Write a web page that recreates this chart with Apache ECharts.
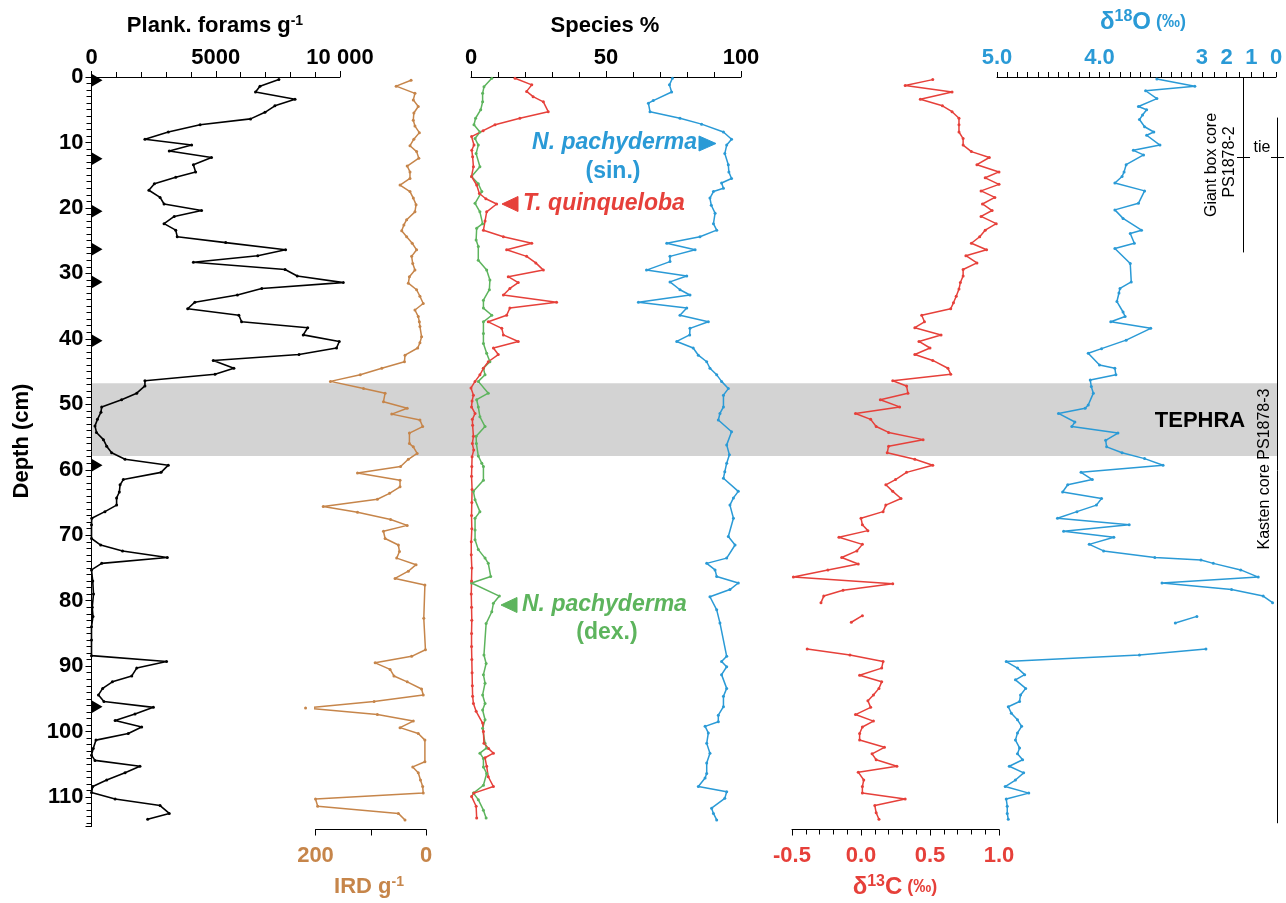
<!DOCTYPE html>
<html><head><meta charset="utf-8">
<script src="https://cdn.jsdelivr.net/npm/echarts@6/dist/echarts.min.js"></script>
<style>html,body{margin:0;padding:0;background:#fff}#c{width:1286px;height:903px}</style>
</head><body><div id="c"></div>
<script>
// ---------------- DATA ----------------
const depthTickLabels = [0,10,20,30,40,50,60,70,80,90,100,110];
const markerDepths = [0.5,12.5,20.5,26.3,31.3,40.3,59.3,96.2];
const tephraTop = 46.8, tephraBottom = 57.9;

const foramsDepth = [0.4,1.4,2.3,3.4,4.4,5.4,6.4,7.3,8.4,9.5,10.4,11.3,12.3,13.4,14.5,15.3,16.3,17.3,18.4,19.4,20.4,21.3,22.4,23.4,24.4,25.3,26.4,27.3,28.3,29.4,30.4,31.4,32.3,33.3,34.4,35.4,36.4,37.4,38.3,39.4,40.4,41.4,42.4,43.3,44.5,45.4,46.4,47.2,48.3,49.3,50.4,51.2,52.3,53.3,54.3,55.4,56.4,57.4,58.4,59.3,60.4,61.5,62.3,63.4,64.3,65.4,66.4,67.4,68.4,70.5,71.5,72.4,73.4,74.3,75.3,77,79,81,82.4,84,86,88.4,89.3,90.3,91.5,92.4,93.4,94.4,95.4,96.3,97.3,98.3,99.3,100.3,101.3,102.6,103.6,104.4,105.3,106.3,107.4,108.4,109.3,110.3,111.3,112.5,113.4];
const foramsValue = [7540,6780,6600,8190,7380,6980,6400,4370,3090,2150,4030,3130,4830,4100,4190,3390,2530,2310,2760,2920,4430,3330,2920,3390,3450,5400,7810,6690,4100,7790,8280,10130,6850,5870,4160,3870,5930,6040,8700,8520,9970,9860,8350,4900,5730,4970,2150,2150,1820,1210,410,380,240,140,200,480,610,810,1350,3090,2800,1280,1150,1120,1010,1010,540,10,0,0,370,1250,3050,410,0,50,80,30,60,0,0,0,3020,1820,1620,840,450,280,500,2490,1750,950,2020,1480,180,70,0,140,1950,1350,610,50,0,950,2760,3130,2260];

const irdDepth = [0.5,1.4,2.5,3.5,4.5,5.5,6.6,7.5,8.5,9.5,10.5,11.4,12.4,13.6,14.5,15.5,16.5,17.5,18.5,19.5,20.6,21.8,22.6,23.5,24.4,25.4,26.4,27.4,28.5,29.5,30.5,31.5,32.5,33.5,34.6,35.6,36.6,37.4,38.1,39.7,40.6,41.4,42.5,43.5,44.5,45.5,46.5,47.6,48.3,49.6,50.6,51.5,52.4,53.4,54.4,56,56.5,57.5,58.4,59.5,60.5,61.6,62.6,63.6,64.5,65.6,66.5,67.6,68.5,69.4,70.5,71.5,72.5,73.5,74.5,75.5,76.6,77.6,82.7,87.5,88.5,89.5,90.5,91.5,92.4,93.5,94.4,95.4,96.4,97.4,98.4,99.4,100.3,101.3,104.6,105.4,106.3,107.4,108.4,109.4,110.3,111.4,112.5,113.5];
const irdValue = [27,54,20,23,14,22,23,20,12,22,29,17,13,34,29,29,47,29,23,18,20,35,40,44,35,25,17,26,24,20,30,32,17,11,5,20,14,12,11,8,11,15,38,39,80,119,173,113,74,77,34,62,11,6,30,30,23,16,32,46,124,47,47,66,88,186,124,64,34,77,74,50,48,53,18,32,56,2,4,1,26,92,65,58,34,8,5,94,218,88,23,47,14,2,2,24,14,10,6,5,200,196,50,38];

const quinqDepth = [0.2,1.2,2.2,3.0,3.8,5.3,6.3,7.3,8.2,9.1,10.4,11.2,12.2,13.7,15.2,16.5,17.8,18.6,19.4,20.6,22,23.4,24.4,25.4,26.4,27.4,28.4,29.5,30.5,31.4,32.3,33.3,34.4,35.3,36.4,37.4,38.4,39.4,40.4,41.4,42.4,43.5,44.5,45.5,46.5,47.5,48.6,49.5,50.4,51.4,52.3,53.2,54.9,56,57,58,59.5,61,63,65,67,69,71,73,75,77,79,81,83,85,87,89,91,93,94.6,95.7,96.9,98.7,100,101.8,102.6,103.3,104,105.3,106.9,108.4,109.4,109.9,111.4,113.2];
const quinqValue = [16.3,22.5,20.6,23,26.8,28.6,18.1,8.9,4.5,0.2,1.1,0.3,0.6,0.9,0.2,2.1,3.1,5.5,9.5,5.8,5.2,4.6,12,22.5,13.2,20.6,24,26.8,13.8,17.5,14.4,12,31.7,14.4,13.2,6.4,11.4,12,17.5,8.3,10.1,6.4,4.6,3.3,1.5,0,0.9,0.4,0.2,1.5,0.5,0.6,0.9,0.5,1,0.4,0.3,0.2,0.4,0.3,0.2,0.3,0.1,0.1,0.3,0.2,0.1,0.2,0.3,0.2,0.2,0.3,0.4,0.5,0.6,0.9,1.9,4.3,4.6,4.8,6.5,8.3,5.2,5.8,6.4,8.3,1.1,0.2,1.9,2.1];

const dexDepth = [0.2,1.5,2.5,3.8,5.0,6.3,7.3,8.4,9.4,10.4,11.7,13.7,15.2,16.3,17.5,19.3,20.6,22.4,23.1,24.9,25.9,28,29.5,31,32.5,34.1,35.3,36.4,37.4,39.2,40.7,42.2,43.5,44.5,45.5,46.5,48.3,49.3,50.4,51.9,53.4,54.9,56,57.9,59,59.5,61.6,63.3,64.6,66.4,67.4,69.2,70.7,72.2,73.5,74.3,76.3,77.3,79.3,80.4,81.7,83.5,88.3,89.6,91.3,92.6,94.4,95.7,96.7,98.2,99.5,101.8,102.5,103.3,104.1,105.4,106.4,108.2,109.4,110.4,112,113.2];
const dexValue = [7.7,4.8,4.3,4.3,3.6,1.7,1.1,3.3,1.5,2.7,1.9,3.3,0.2,2.7,4.0,1.5,3.3,4.3,2.1,1.9,2.7,2.7,5.8,7.0,6.8,4.6,4.6,7.7,4.6,4.6,4.6,5.8,7.0,4.6,5.2,2.7,6.4,2.1,2.7,3.3,5.2,1.9,2.0,2.7,4.0,4.6,4.6,0.9,1.5,3.3,1.5,1.5,1.5,2.7,5.2,6.4,7.3,0.2,10.5,8.3,7.7,5.6,4.8,5.6,4.6,5.2,4.3,5.2,4.3,5.2,4.3,5.2,5.8,3.3,4.6,4.6,5.8,4.6,0.9,2.7,4.6,5.6];

const sinDepth = [0.2,1.2,2.3,3.6,4.0,5.3,6.3,7.2,8.4,9.5,10.4,11.7,13.4,14.5,15.5,16.2,17.0,17.5,18.5,19.6,20.8,22.4,23.4,24.4,25.4,26.4,27.4,28.2,29.5,30.4,31.3,32.5,33.3,34.4,35.3,36.4,37.4,38.4,39.4,40.4,41.4,42.5,43.5,44.5,45.5,46.5,47.6,48.6,50.4,51.4,52.4,54.2,56.2,57.7,59,60.3,61.3,63.3,64.3,65.4,67.4,70.2,71.5,73.5,74.3,75.3,76.3,77.3,78.3,79.4,81.4,83.4,88.5,89.3,90.1,91.3,93.4,94.6,96.2,97.5,98.5,99.2,100.2,101.8,103.3,104.8,106.4,107.1,108.4,109.2,110.2,111.7,112.5,113.5];
const sinValue = [74.6,73.5,74.3,67.5,65.7,66.3,77.4,85.4,93.5,96.5,94.7,94,95.3,95.5,96.5,92.8,93.5,89.8,88.5,89,90.4,89.8,91,84.8,72.5,83,73.7,73.7,65,79.9,73.7,77.4,81.1,62,79.9,77.4,87.9,81.1,81,76.2,82.3,84.2,87.3,88.5,91,92.8,95.3,93.5,93.5,92.2,91.6,96.5,94.7,95.7,94.7,94,93.5,99,97.2,95.9,97.2,95.3,97.8,94.7,87.3,90.4,91,99,95.9,88.5,91,92.2,94.7,92.8,94.7,92.8,94.7,93.5,93.5,91.6,91.6,86.7,87.9,87.3,88.5,87.3,87.3,86.7,84.2,94.7,94,89.1,89.8,91];

const d13cDepth = [0.4,1.3,2.3,3.4,4.4,5.3,6.3,7.3,8.4,9.4,10.4,11.4,12.3,13.4,14.5,15.4,16.4,17.4,18.4,19.4,20.4,21.3,22.4,23.4,24.4,25.4,26.4,27.3,28.4,29.4,30.4,31.4,32.4,33.5,34.5,35.4,36.4,37.4,38.3,39.4,40.4,41.4,42.4,43.3,44.5,45.4,46.4,47.2,48.3,49.3,50.4,51.4,52.3,53.4,54.3,55.4,56.4,57.4,58.4,59.3,60.4,61.5,62.3,63.3,64.4,65.4,66.4,67.4,68.4,69.3,70.3,71.4,72.4,73.4,74.4,75.3,76.4,77.4,78.4,79.3,80.3,81.3,82.3,83.3,85.3,87.4,88.3,89.3,90.3,91.4,92.4,93.4,94.4,95.3,96.3,97.4,98.4,99.3,100.3,101.3,102.4,103.4,104.3,105.3,106.2,107.4,108.4,109.4,110.3,111.3,112.4,113.4];
const d13cValue = [0.52,0.32,0.66,0.43,0.59,0.66,0.71,0.71,0.71,0.74,0.74,0.8,0.93,0.84,1.0,0.9,1.0,0.87,0.97,0.88,0.95,0.87,0.98,0.9,0.86,0.8,0.91,0.76,0.84,0.74,0.74,0.72,0.71,0.69,0.67,0.65,0.44,0.46,0.39,0.58,0.42,0.5,0.39,0.52,0.63,0.65,0.23,0.33,0.34,0.14,0.28,-0.04,0.07,0.11,0.2,0.45,0.2,0.19,0.39,0.52,0.33,0.25,0.18,0.23,0.29,0.18,0.16,0.0,0.01,0.05,-0.16,0.01,-0.03,-0.14,-0.02,-0.24,-0.49,0.23,-0.13,-0.27,-0.29,null,0.01,-0.07,null,-0.39,-0.08,0.16,0.15,-0.01,0.15,0.13,0.09,0.05,0.07,-0.04,0.09,0.01,-0.01,-0.01,0.17,0.08,0.11,0.26,-0.02,0.02,0.01,0.01,0.32,0.1,0.11,0.13];

const d18oDepth = [0.3,1.4,2.1,3.3,4.5,5.0,5.8,6.5,7.6,8.4,8.9,10.4,11.2,11.9,13.4,14.5,15.2,16.2,17.4,19.3,20.3,21.6,23.4,23.9,25.4,26.2,28.5,31.3,32.3,33.0,34.3,35.9,36.6,37.4,38.4,40.2,41.5,42.2,44.0,44.5,45.5,46.3,47.3,48.3,50.1,50.6,51.4,52.7,53.4,54.4,55.5,56.5,57.4,58.3,59.3,60.4,61.5,62.3,63.4,64.4,65.4,66.4,67.4,68.4,69.4,70.3,71.4,72.4,73.4,73.8,74.3,75.3,76.4,77.3,78.3,79.3,80.3,81.3,82.4,83.4,85.3,87.4,88.3,89.3,90.3,91.3,92.1,93.4,94.4,95.4,96.2,97.2,98.2,99.2,100.2,101.3,102.5,103.4,104.3,105.3,106.3,107.4,108.4,109.4,110.3,111.4,112.5,113.4];
const d18oValue = [3.44,3.07,3.55,3.44,3.62,3.54,3.58,3.61,3.56,3.47,3.54,3.41,3.67,3.57,3.74,3.76,3.78,3.85,3.56,3.62,3.85,3.77,3.59,3.70,3.66,3.85,3.70,3.69,3.80,3.81,3.83,3.77,3.75,3.89,3.50,3.74,3.98,4.11,4.0,3.85,3.84,4.09,4.08,4.06,4.11,4.14,4.40,4.24,4.27,3.82,3.94,3.93,3.78,3.56,3.38,4.18,4.07,4.31,4.36,3.98,4.03,4.22,4.41,3.71,4.35,3.86,4.10,3.96,3.46,3.01,2.54,1.43,0.72,3.39,1.8,0.52,0.14,null,3.05,3.26,null,2.84,3.61,4.91,4.80,4.73,4.82,4.72,4.77,4.78,4.89,4.86,4.80,4.76,4.80,4.82,4.78,4.80,4.75,4.88,4.74,4.82,4.92,4.69,4.91,4.90,4.90,4.89];

const d18oTickValues = [5,4,3,2,1,0];
const d18oTickLabels = ['5.0','4.0','3','2','1','0'];

// ---------------- HELPERS ----------------
const FONT = '"Liberation Sans", Arial, Helvetica, sans-serif';
const D18O_COMPRESS = 0.2407; // broken axis: 3..0 compressed
function d18oToAxis(v){ return v >= 3 ? 5 - v : 2 + (3 - v) * D18O_COMPRESS; }
function pairs(vals, depths, f){ return depths.map((d,i)=> vals[i]==null ? ['-', d] : [f ? f(vals[i]) : vals[i], d]); }

const COL = {ird:'#c6854a', red:'#e6403a', green:'#5db45d', blue:'#2a9ad6'};
const DEPTH_MAX = 114.5;
const GT = 77, GH = 749.5;

const d18oLabelAxis = d18oTickValues.map(d18oToAxis);
const d18oTickAxis = [];
for (let i=0;i<=20;i++) d18oTickAxis.push(i/10);
[2.5,2,1.5,1,0.5,0].forEach(v=>d18oTickAxis.push(d18oToAxis(v)));

function yAx(idx, show){
  return {gridIndex: idx, type:'value', inverse:true, min:0, max:DEPTH_MAX, interval:10, show: show,
    axisLine:{show:show, lineStyle:{color:'#000', width:1}},
    axisTick:{show:show, length:6, lineStyle:{color:'#000'}},
    minorTick:{show:show, splitNumber:10, length:5, lineStyle:{color:'#000'}},
    splitLine:{show:false},
    axisLabel:{show:show, margin:8, color:'#000', fontWeight:'bold', fontSize:22, fontFamily:FONT,
      formatter: v => depthTickLabels.indexOf(v) >= 0 ? String(v) : ''}};
}
function xAx(idx, o){
  return Object.assign({gridIndex: idx, type:'value', splitLine:{show:false},
    axisLine:{show:true, onZero:false, lineStyle:{color:'#000', width:1}},
    axisTick:{show:true, length:6, lineStyle:{color:'#000'}},
    minorTick:{show:false}}, o);
}
const lbl = (color) => ({color, fontWeight:'bold', fontSize:22, fontFamily:FONT});

function lineSeries(name, xi, data, color, extra){
  return Object.assign({name, type:'line', xAxisIndex:xi, yAxisIndex:xi, data, z:5,
    clip:false, connectNulls:false, smooth:false,
    symbol:'circle', symbolSize:3, showSymbol:true,
    lineStyle:{color, width:1.5}, itemStyle:{color}, emphasis:{disabled:true}}, extra||{});
}

const chart = echarts.init(document.getElementById('c'), null, {renderer:'canvas'});

const option = {
  animation:false,
  backgroundColor:'#fff',
  grid:[
    {left:91.5, top:GT, width:248.5, height:GH},
    {left:315.5, top:GT, width:110.5, height:GH},
    {left:471, top:GT, width:270, height:GH},
    {left:792, top:GT, width:207, height:GH},
    {left:997, top:GT, width:279, height:GH},
    {left:0, top:GT, width:1286, height:GH}
  ],
  xAxis:[
    xAx(0,{position:'top', min:0, max:10000, interval:5000,
      minorTick:{show:true, splitNumber:5, length:5, lineStyle:{color:'#000'}},
      axisLabel:Object.assign(lbl('#000'),{margin:8, formatter:v=> v===10000 ? '10 000' : String(v)})}),
    xAx(1,{position:'bottom', offset:3, min:0, max:200, interval:100, inverse:true,
      axisLabel:Object.assign(lbl(COL.ird),{margin:15, formatter:v=> v===100 ? '' : String(v)})}),
    xAx(2,{position:'top', min:0, max:100, interval:50,
      minorTick:{show:true, splitNumber:5, length:5, lineStyle:{color:'#000'}},
      axisLabel:Object.assign(lbl('#000'),{margin:8})}),
    xAx(3,{position:'bottom', offset:3, min:-0.5, max:1.0, interval:0.5,
      minorTick:{show:true, splitNumber:5, length:5, lineStyle:{color:'#000'}},
      axisLabel:Object.assign(lbl(COL.red),{margin:15, formatter:v=> v.toFixed(1)})}),
    xAx(4,{position:'top', min:0, max:d18oToAxis(0),
      axisTick:{show:true, length:5, customValues:d18oTickAxis, lineStyle:{color:'#000'}},
      axisLabel:Object.assign(lbl(COL.blue),{margin:8, customValues:d18oLabelAxis,
        formatter:v=>{ for(let i=0;i<d18oLabelAxis.length;i++){ if(Math.abs(d18oLabelAxis[i]-v)<1e-6) return d18oTickLabels[i]; } return ''; }})}),
    {gridIndex:5, type:'value', min:0, max:1286, show:false}
  ],
  yAxis:[yAx(0,true), yAx(1,false), yAx(2,false), yAx(3,false), yAx(4,false), yAx(5,false)],
  series:[
    {type:'line', xAxisIndex:5, yAxisIndex:5, data:[[0,0]], showSymbol:false, symbol:'none', z:1,
      lineStyle:{opacity:0}, silent:true,
      markArea:{silent:true, itemStyle:{color:'#d3d3d3'}, label:{show:false},
        data:[[{xAxis:92, yAxis:tephraTop},{xAxis:1277, yAxis:tephraBottom}]]},
      markLine:{silent:true, symbol:['none','none'], label:{show:false}, animation:false,
        lineStyle:{color:'#000', width:1, type:'solid'},
        emphasis:{disabled:true},
        data:[
          [{coord:[1243.5,0]},{coord:[1243.5,26.8]}],
          [{coord:[1277,6.2]},{coord:[1277,114]}],
          [{coord:[1237,12.3]},{coord:[1250,12.3]}],
          [{coord:[1271,12.3]},{coord:[1284,12.3]}]
        ]}},
    lineSeries('Plank. forams', 0, pairs(foramsValue, foramsDepth), '#000', {lineStyle:{color:'#000', width:1.6}}),
    {type:'scatter', xAxisIndex:0, yAxisIndex:0, z:6, clip:false,
      data: markerDepths.map(d=>[0,d]), symbol:'triangle', symbolRotate:-90, symbolSize:[13,11], symbolOffset:[5.5,0],
      itemStyle:{color:'#000', opacity:1}, emphasis:{disabled:true}},
    lineSeries('IRD', 1, pairs(irdValue, irdDepth), COL.ird),
    lineSeries('N. pachyderma (dex.)', 2, pairs(dexValue, dexDepth), COL.green),
    lineSeries('T. quinqueloba', 2, pairs(quinqValue, quinqDepth), COL.red),
    lineSeries('N. pachyderma (sin.)', 2, pairs(sinValue, sinDepth), COL.blue),
    lineSeries('d13C', 3, pairs(d13cValue, d13cDepth), COL.red),
    lineSeries('d18O', 4, pairs(d18oValue, d18oDepth, d18oToAxis), COL.blue)
  ],
  graphic:[]
};

function T(x, y, text, o){
  o = o || {};
  const st = {text, fill:o.color||'#000', fontFamily:FONT, fontSize:o.size||22, fontWeight:o.weight||'bold',
    fontStyle:o.style||'normal', align:o.align||'center', verticalAlign:'middle',
    textAlign:o.align||'center', textVerticalAlign:'middle'};
  if (o.rich) st.rich = o.rich;
  return {type:'text', x, y, rotation:o.rot||0, z:100, silent:true, style:st};
}
function richSup(color, mainSize, supSize, tailSize){
  const base = {fontFamily:FONT, fontWeight:'bold', fill:color, color};
  return {
    m:Object.assign({fontSize:mainSize}, base),
    s:Object.assign({fontSize:supSize, verticalAlign:'top', padding:[0,0,10,0]}, base),
    p:Object.assign({fontSize:tailSize||mainSize}, base)
  };
}
function tri(points, color){ return {type:'polygon', z:100, silent:true, shape:{points}, style:{fill:color, stroke:color, lineWidth:1}}; }

option.graphic = [
  T(215, 26, '{m|Plank. forams g}{s|-1}', {rich:richSup('#000',22,14)}),
  T(605, 26, 'Species %', {size:22}),
  T(1143, 22, '{m|δ}{s|18}{m|O}{p| (‰)}', {rich:richSup(COL.blue,24,16,18), color:COL.blue}),
  T(369, 887, '{m|IRD g}{s|-1}', {rich:richSup(COL.ird,22,14), color:COL.ird}),
  T(895, 887, '{m|δ}{s|13}{m|C}{p| (‰)}', {rich:richSup(COL.red,24,16,18), color:COL.red}),
  T(22, 441, 'Depth (cm)', {rot:Math.PI/2, size:22}),
  T(697, 143, 'N. pachyderma', {color:COL.blue, style:'italic', size:23, align:'right'}),
  tri([[699,136],[699,151],[716,143.5]], COL.blue),
  T(613, 172, '(sin.)', {color:COL.blue, size:23}),
  tri([[518,196.5],[518,211.5],[502,204]], COL.red),
  T(523, 204, 'T. quinqueloba', {color:COL.red, style:'italic', size:23, align:'left'}),
  tri([[517,597.5],[517,612.5],[501,605]], COL.green),
  T(522, 605, 'N. pachyderma', {color:COL.green, style:'italic', size:23, align:'left'}),
  T(607, 633, '(dex.)', {color:COL.green, size:23}),
  T(1200, 421, 'TEPHRA', {size:22}),
  T(1212, 165, 'Giant box core', {rot:Math.PI/2, size:16, weight:'normal'}),
  T(1230, 162, 'PS1878-2', {rot:Math.PI/2, size:16, weight:'normal'}),
  T(1262, 148, 'tie', {size:16, weight:'normal'}),
  T(1265, 469, 'Kasten core PS1878-3', {rot:Math.PI/2, size:16, weight:'normal'})
];

chart.setOption(option);
</script></body></html>
